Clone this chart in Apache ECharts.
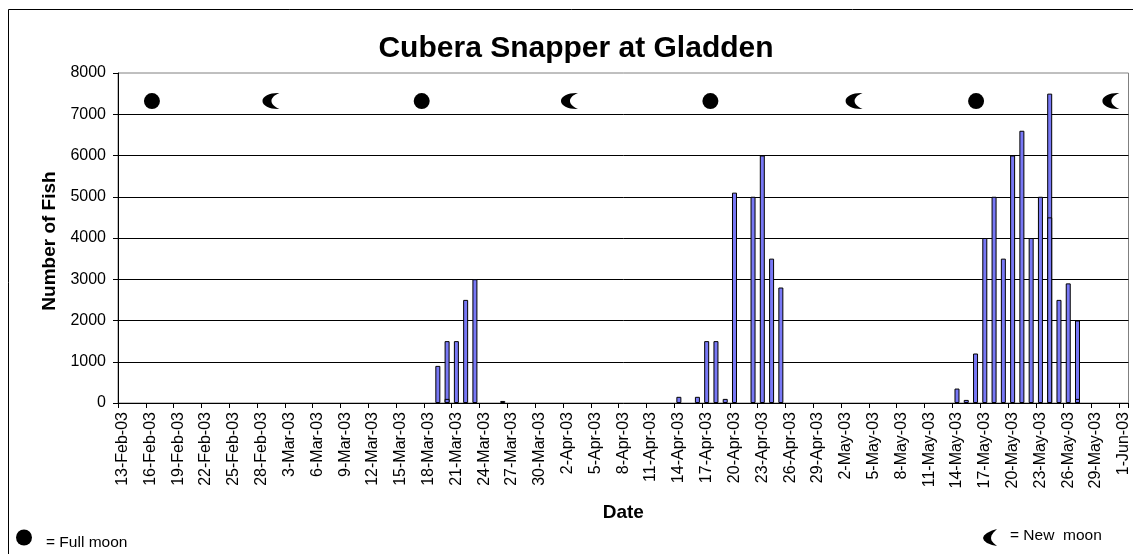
<!DOCTYPE html>
<html>
<head>
<meta charset="utf-8">
<style>html,body{margin:0;padding:0;background:#fff}#c{width:1133px;height:554px}</style>
<script src="https://cdn.jsdelivr.net/npm/echarts@6/dist/echarts.min.js"></script>
</head>
<body>
<div id="c"></div>
<script>
var firstDate = [2003, 1, 13];
var dayCount = 109;
var monthNames = ['Jan','Feb','Mar','Apr','May','Jun'];
var yTicks = [0,1000,2000,3000,4000,5000,6000,7000,8000];

var catchDays = ['19-Mar-03','20-Mar-03','21-Mar-03','22-Mar-03','23-Mar-03','26-Mar-03',
  '14-Apr-03','16-Apr-03','17-Apr-03','18-Apr-03','19-Apr-03','20-Apr-03','22-Apr-03','23-Apr-03','24-Apr-03','25-Apr-03',
  '14-May-03','15-May-03','16-May-03','17-May-03','18-May-03','19-May-03','20-May-03','21-May-03','22-May-03','23-May-03','24-May-03','25-May-03','26-May-03','27-May-03'];
var catchValues = [900,1500,1500,2500,3000,50,
  150,150,1500,1500,100,5100,5000,6000,3500,2800,
  350,75,1200,4000,5000,3500,6000,6600,4000,5000,7500,2500,2900,2000];
var innerDays = ['20-Mar-03','24-May-03','27-May-03'];
var innerValues = [100,4500,100];

var fullMoonPos = [3.66,32.76,63.9,92.56];
var newMoonPos = [16.5,48.7,79.4,107.1];
var moonLevel = 7320;

var categories = [];
for (var i=0;i<dayCount;i++){
  var d = new Date(Date.UTC(firstDate[0],firstDate[1],firstDate[2]+i));
  categories.push(d.getUTCDate()+'-'+monthNames[d.getUTCMonth()]+'-03');
}
function sparse(days,vals){
  var a = categories.map(function(){return null;});
  days.forEach(function(k,j){a[categories.indexOf(k)] = vals[j];});
  return a;
}
var crescent = 'path://M17 0C8 -0.5 0 3 0 8C0 13 8 16.5 17 16C12 14 9 11 9 8C9 5 12 2 17 0Z';
var legendCrescent = [[14,0],[9,1.5],[4,4],[1,6.5],[0,9],[1,11.5],[4,14],[9,16],[14,17],[10.5,14],[8.5,11.5],[8,9],[8.5,6.5],[10.5,3.5]]
  .map(function(p){return [p[0]+983,p[1]+529];});
var font = '"Liberation Sans", Arial, sans-serif';
var barStyle = {color:'#7878f5',borderColor:'#000',borderWidth:1};
var chart = echarts.init(document.getElementById('c'),null,{renderer:'canvas'});
chart.setOption({
  animation:false,
  backgroundColor:'#fff',
  title:{text:'Cubera Snapper at Gladden',left:571,top:29,textAlign:'center',
    textStyle:{fontFamily:font,fontSize:30,fontWeight:'bold',color:'#000'}},
  grid:{left:118,top:73,width:1010.5,height:330,show:true,borderColor:'#808080',borderWidth:1,backgroundColor:'#fff'},
  xAxis:[{
    type:'category',data:categories,boundaryGap:true,
    name:'Date',nameLocation:'middle',nameGap:100,
    nameTextStyle:{fontFamily:font,fontSize:19,fontWeight:'bold',color:'#000'},
    axisLine:{lineStyle:{color:'#000',width:1}},
    axisTick:{show:true,alignWithLabel:false,interval:2,length:5,lineStyle:{color:'#000'}},
    axisLabel:{interval:2,rotate:90,margin:9,fontFamily:font,fontSize:16,color:'#000',hideOverlap:false},
    splitLine:{show:false}
  },{
    type:'value',min:0,max:dayCount,show:false
  }],
  yAxis:{
    type:'value',min:0,max:8000,interval:1000,
    name:'Number of Fish',nameLocation:'middle',nameGap:58,
    nameTextStyle:{fontFamily:font,fontSize:19,fontWeight:'bold',color:'#000',padding:[0,6,0,0]},
    axisLine:{show:true,onZero:false,lineStyle:{color:'#000',width:1}},
    axisTick:{show:true,length:5,lineStyle:{color:'#000'}},
    axisLabel:{margin:12,fontFamily:font,fontSize:16,color:'#000',
      formatter:function(v){return yTicks.indexOf(v)>=0?String(v):'';}},
    splitLine:{show:true,showMinLine:false,showMaxLine:false,lineStyle:{color:'#000',width:1}}
  },
  series:[
    {type:'bar',name:'Fish',data:sparse(catchDays,catchValues),barWidth:5,barGap:'-100%',itemStyle:barStyle,z:3},
    {type:'bar',name:'Fish 2',data:sparse(innerDays,innerValues),barWidth:5,barGap:'-100%',itemStyle:barStyle,z:4},
    {type:'scatter',name:'Full moon',xAxisIndex:1,yAxisIndex:0,z:5,
     data:fullMoonPos.map(function(p){return [p,moonLevel];}),
     symbol:'circle',symbolSize:16,itemStyle:{color:'#000',opacity:1}},
    {type:'scatter',name:'New moon',xAxisIndex:1,yAxisIndex:0,z:5,
     data:newMoonPos.map(function(p){return [p,moonLevel];}),
     symbol:crescent,symbolSize:[17,16],symbolKeepAspect:false,itemStyle:{color:'#000',opacity:1}}
  ],
  graphic:[
    {type:'rect',silent:true,z:-1,shape:{x:8.5,y:9.5,width:1140,height:560},style:{fill:'none',stroke:'#000',lineWidth:1}},
    {type:'circle',silent:true,shape:{cx:24,cy:537.5,r:8},style:{fill:'#000'}},
    {type:'text',silent:true,x:46,y:535,style:{text:'= Full moon',font:'15.5px '+font,fill:'#000'}},
    {type:'polygon',silent:true,shape:{points:legendCrescent},style:{fill:'#000'}},
    {type:'text',silent:true,x:1010,y:528,style:{text:'= New  moon',font:'15.5px '+font,fill:'#000'}}
  ]
});
</script>
</body>
</html>
